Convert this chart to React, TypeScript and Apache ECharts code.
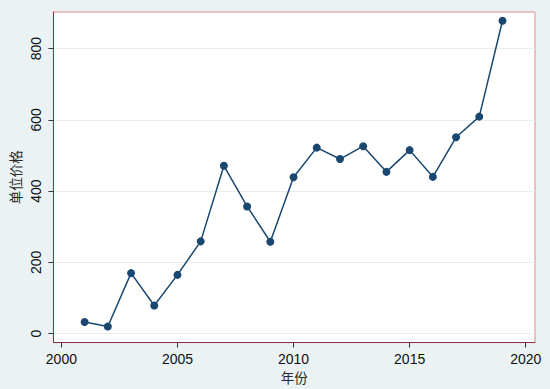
import React, { useEffect, useRef } from "react";
import * as echarts from "echarts";

const years = [2001, 2002, 2003, 2004, 2005, 2006, 2007, 2008, 2009, 2010, 2011, 2012, 2013, 2014, 2015, 2016, 2017, 2018, 2019];
const prices = [33, 20, 170, 79, 165, 259, 471, 357, 258, 439, 522, 490, 526, 454, 515, 440, 551, 609, 878];
const xTicks = [2000, 2005, 2010, 2015, 2020];
const yTicks = [0, 200, 400, 600, 800];

export default function App() {
  const ref = useRef<HTMLDivElement>(null);
  useEffect(() => {
    if (!ref.current) return;
    const chart = echarts.init(ref.current, null, { renderer: "svg" });
    chart.setOption({
      animation: false,
      backgroundColor: "#eaf2f3",
      grid: {
        left: 53,
        top: 12,
        width: 482,
        height: 332,
        show: true,
        backgroundColor: "#ffffff",
        borderColor: "#dd8c93",
        borderWidth: 1,
      },
      xAxis: {
        type: "value",
        min: 1999.656,
        max: 2020.4,
        name: "年份",
        nameLocation: "middle",
        nameGap: 22,
        nameTextStyle: { fontFamily: "Noto Sans CJK SC", fontSize: 13.5, color: "#2a2a2a" },
        axisLine: { show: true, onZero: false, lineStyle: { color: "#8e3345", width: 1 } },
        axisTick: { show: true, customValues: xTicks, length: 5, lineStyle: { color: "#333" } },
        axisLabel: {
          customValues: xTicks,
          margin: 9,
          fontSize: 14,
          fontFamily: "Liberation Sans",
          color: "#111",
          formatter: (v: number) => String(v),
        },
        splitLine: { show: false },
      },
      yAxis: {
        type: "value",
        min: -25,
        max: 902.5,
        name: "单位价格",
        nameLocation: "middle",
        nameGap: 27,
        nameTextStyle: { fontFamily: "Noto Sans CJK SC", fontSize: 13.5, color: "#2a2a2a" },
        axisLine: { show: true, onZero: false, lineStyle: { color: "#8e3345", width: 1 } },
        axisTick: { show: true, customValues: yTicks, length: 5, lineStyle: { color: "#333" } },
        axisLabel: {
          customValues: yTicks,
          margin: 10,
          rotate: 90,
          fontSize: 14,
          fontFamily: "Liberation Sans",
          color: "#111",
          formatter: (v: number) => String(v),
        },
        splitLine: { show: true, lineStyle: { color: "#e6eef0", width: 1 } },
      },
      series: [
        {
          type: "line",
          data: years.map((y, i) => [y, prices[i]]),
          symbol: "circle",
          symbolSize: 8,
          lineStyle: { color: "#1a476f", width: 1.5 },
          itemStyle: { color: "#1a476f" },
        },
      ],
    });
    return () => chart.dispose();
  }, []);
  return <div ref={ref} style={{ width: 550, height: 389, position: "absolute", left: 0, top: 0 }} />;
}
